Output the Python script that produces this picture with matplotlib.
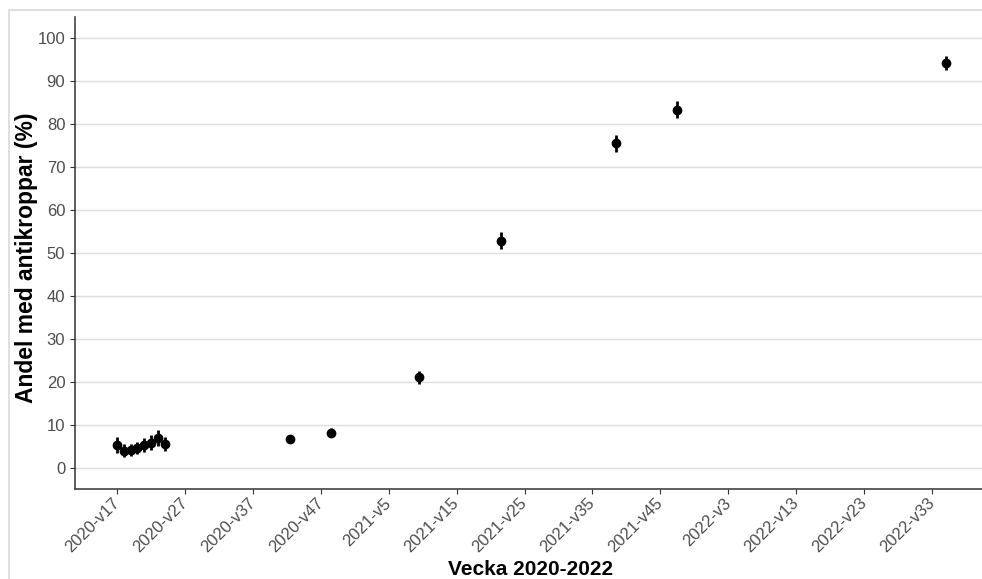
import matplotlib
matplotlib.use('Agg')
import matplotlib.pyplot as plt
from matplotlib.patches import Rectangle

plt.rcParams['font.family'] = ['Liberation Sans', 'DejaVu Sans']

# week index: (year - 2020) * 52 + week
veckor = [17, 18, 19, 20, 21, 22, 23, 24, 42.5, 48.5, 61.5, 73.5, 90.5, 99.5, 139]
andel = [5.3, 3.9, 4.0, 4.5, 5.2, 5.8, 6.9, 5.5, 6.7, 8.1, 21.0, 52.8, 75.5, 83.4, 94.2]
fel = [1.9, 1.5, 1.4, 1.4, 1.6, 1.7, 1.9, 1.6, 0.9, 1.0, 1.5, 2.0, 1.9, 2.0, 1.6]

tick_pos = [17, 27, 37, 47, 57, 67, 77, 87, 97, 107, 117, 127, 137]
tick_lab = ['2020-v17', '2020-v27', '2020-v37', '2020-v47', '2021-v5', '2021-v15',
            '2021-v25', '2021-v35', '2021-v45', '2022-v3', '2022-v13', '2022-v23',
            '2022-v33']

W, H = 982, 579
fig = plt.figure(figsize=(W / 100, H / 100), dpi=100)

# grey frame round the plot (cut off at right and bottom)
fig.patches.append(Rectangle((9 / W, -0.1), 1.2, (H - 10) / H + 0.1,
                             transform=fig.transFigure, fill=False,
                             edgecolor='#d9d9d9', linewidth=1.2))

ax = fig.add_axes([75 / W, (H - 489) / H, (987 - 75) / W, (489 - 16.8) / H])

ax.errorbar(veckor, andel, yerr=fel, fmt='o', color='black', markersize=6,
            elinewidth=2, capsize=0, zorder=3)

ax.set_xlim(10.8, 145.1)
ax.set_ylim(-5, 105)
ax.set_yticks(range(0, 101, 10))
ax.set_xticks(tick_pos)
ax.set_xticklabels(tick_lab, rotation=45, ha='right', va='center',
                   rotation_mode='anchor')

ax.grid(axis='y', color='#dedede', linewidth=1)
ax.set_axisbelow(True)
for s in ['top', 'right']:
    ax.spines[s].set_visible(False)
for s in ['left', 'bottom']:
    ax.spines[s].set_color('#333333')
    ax.spines[s].set_linewidth(1.1)
ax.tick_params(colors='#333333', labelcolor='#4d4d4d', labelsize=12, length=3.5)
ax.tick_params(axis='x', pad=5)

ax.set_ylabel('Andel med antikroppar (%)', fontsize=16.5, fontweight='bold')
ax.yaxis.set_label_coords(-37 / 912, 0.49)
ax.set_xlabel('Vecka 2020-2022', fontsize=15, fontweight='bold')
ax.xaxis.set_label_coords(0.5, -71 / 472.2)

fig.savefig('out.png', dpi=100)
